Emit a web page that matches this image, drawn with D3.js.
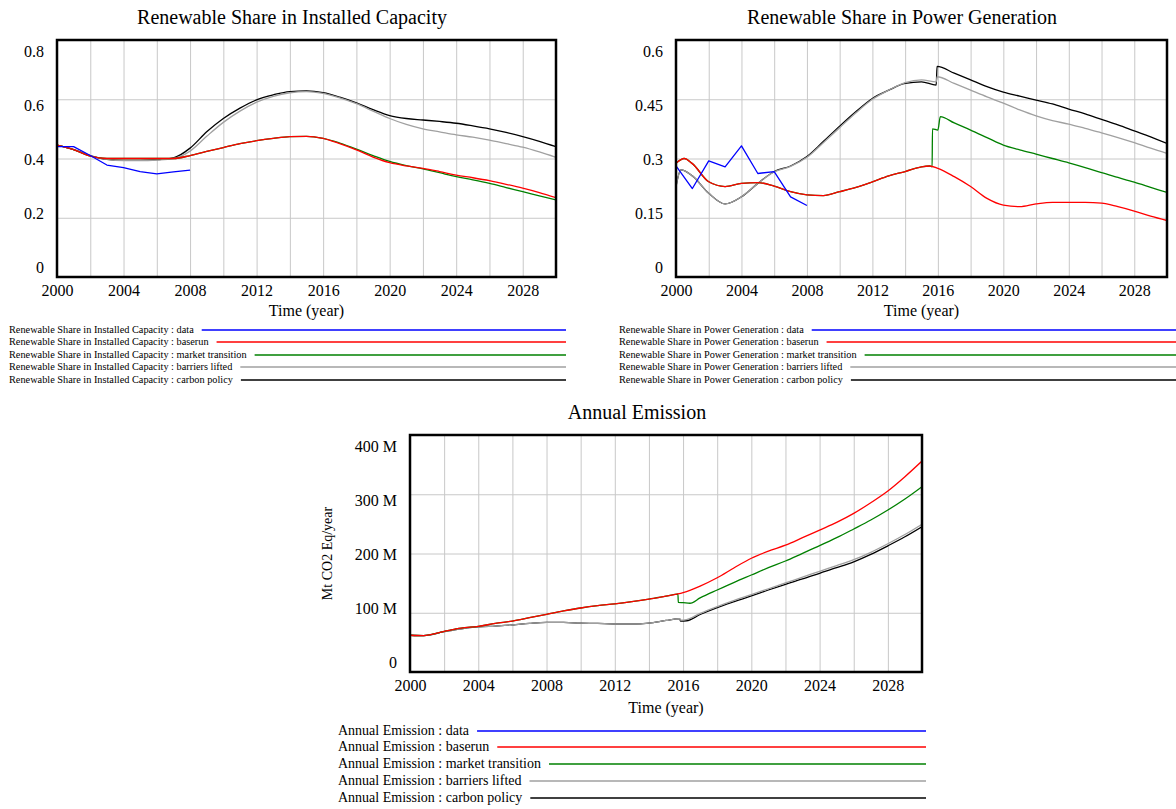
<!DOCTYPE html>
<html>
<head>
<meta charset="utf-8">
<script src="https://cdn.jsdelivr.net/npm/d3@7"></script>
<style>
  body { margin: 0; background: #fff; }
  svg { display: block; font-family: "Liberation Serif", "Times New Roman", serif; }
</style>
</head>
<body>
<svg id="chart"></svg>
<script>
// ---- data: [year, value] ----
const scenarios = ["data", "baserun", "market transition", "barriers lifted", "carbon policy"];
const scenarioColors = ["#0000ff", "#ff0000", "#008000", "#a0a0a0", "#000000"];

// Renewable Share in Installed Capacity
const capData = [[2000,0.44],[2001,0.44],[2002,0.41],[2003,0.378],[2004,0.369],[2005,0.356],[2006,0.348],[2007,0.355],[2008,0.361]];
const capBaserun = [[2000,0.445],[2001,0.43],[2002,0.408],[2003,0.40],[2004,0.40],[2005,0.40],[2006,0.40],[2007,0.40],[2008,0.41],[2009,0.424],[2010,0.437],[2011,0.45],[2012,0.46],[2013,0.468],[2014,0.474],[2015,0.475],[2016,0.468],[2017,0.45],[2018,0.429],[2019,0.405],[2020,0.386],[2021,0.375],[2022,0.367],[2023,0.356],[2024,0.344],[2025,0.335],[2026,0.325],[2027,0.313],[2028,0.30],[2029,0.285],[2030,0.268]];
const capMarket = [[2000,0.445],[2001,0.43],[2002,0.408],[2003,0.40],[2004,0.40],[2005,0.40],[2006,0.40],[2007,0.40],[2008,0.41],[2009,0.424],[2010,0.437],[2011,0.45],[2012,0.46],[2013,0.468],[2014,0.474],[2015,0.475],[2016,0.468],[2017,0.452],[2018,0.432],[2019,0.41],[2020,0.39],[2021,0.376],[2022,0.365],[2023,0.352],[2024,0.339],[2025,0.328],[2026,0.316],[2027,0.302],[2028,0.288],[2029,0.274],[2030,0.26]];
const capBarriers = [[2000,0.445],[2001,0.43],[2002,0.41],[2003,0.397],[2004,0.393],[2005,0.393],[2006,0.395],[2007,0.40],[2008,0.425],[2009,0.475],[2010,0.522],[2011,0.56],[2012,0.59],[2013,0.61],[2014,0.622],[2015,0.626],[2016,0.62],[2017,0.605],[2018,0.585],[2019,0.56],[2020,0.535],[2021,0.515],[2022,0.50],[2023,0.49],[2024,0.48],[2025,0.472],[2026,0.462],[2027,0.45],[2028,0.438],[2029,0.422],[2030,0.404]];
const capCarbon = [[2000,0.445],[2001,0.43],[2002,0.41],[2003,0.397],[2004,0.394],[2005,0.394],[2006,0.396],[2007,0.402],[2008,0.435],[2009,0.49],[2010,0.535],[2011,0.57],[2012,0.598],[2013,0.615],[2014,0.626],[2015,0.628],[2016,0.622],[2017,0.607],[2018,0.588],[2019,0.565],[2020,0.545],[2021,0.535],[2022,0.53],[2023,0.525],[2024,0.519],[2025,0.51],[2026,0.50],[2027,0.488],[2028,0.474],[2029,0.458],[2030,0.44]];

// Renewable Share in Power Generation
const genData = [[2000,0.281],[2001,0.224],[2002,0.294],[2003,0.279],[2004,0.332],[2005,0.262],[2006,0.267],[2007,0.203],[2008,0.181]];
const genBaserun = [[2000,0.288],[2000.5,0.30],[2001,0.287],[2002,0.241],[2003,0.229],[2004,0.237],[2005,0.239],[2006,0.23],[2007,0.216],[2008,0.208],[2009,0.206],[2010,0.216],[2011,0.227],[2012,0.241],[2013,0.256],[2014,0.267],[2015,0.279],[2015.5,0.281],[2016,0.275],[2017,0.254],[2018,0.229],[2019,0.199],[2020,0.182],[2021,0.178],[2022,0.185],[2023,0.189],[2024,0.189],[2025,0.189],[2026,0.187],[2027,0.178],[2028,0.167],[2029,0.154],[2030,0.143]];
const genMarket = [[2000,0.288],[2000.5,0.30],[2001,0.287],[2002,0.241],[2003,0.229],[2004,0.237],[2005,0.239],[2006,0.23],[2007,0.216],[2008,0.208],[2009,0.206],[2010,0.216],[2011,0.227],[2012,0.241],[2013,0.256],[2014,0.267],[2015,0.279],[2015.5,0.281],[2015.65,0.279],[2015.67,0.375],[2016,0.372],[2016.15,0.406],[2017,0.39],[2018,0.372],[2019,0.353],[2020,0.334],[2021,0.322],[2022,0.311],[2023,0.30],[2024,0.289],[2025,0.277],[2026,0.264],[2027,0.252],[2028,0.24],[2029,0.227],[2030,0.214]];
const genBarriers = [[2000,0.229],[2000.3,0.271],[2001,0.256],[2002,0.212],[2003,0.185],[2004,0.203],[2005,0.237],[2006,0.266],[2007,0.28],[2008,0.303],[2009,0.34],[2010,0.378],[2011,0.416],[2012,0.45],[2013,0.473],[2014,0.492],[2015,0.499],[2015.9,0.494],[2015.95,0.507],[2017,0.49],[2018,0.473],[2019,0.456],[2020,0.44],[2021,0.423],[2022,0.408],[2023,0.396],[2024,0.387],[2025,0.376],[2026,0.365],[2027,0.353],[2028,0.34],[2029,0.326],[2030,0.313]];
const genCarbon = [[2000,0.229],[2000.3,0.271],[2001,0.256],[2002,0.212],[2003,0.185],[2004,0.203],[2005,0.237],[2006,0.267],[2007,0.281],[2008,0.305],[2009,0.343],[2010,0.382],[2011,0.419],[2012,0.452],[2013,0.473],[2014,0.49],[2015,0.494],[2015.9,0.486],[2015.95,0.533],[2017,0.516],[2018,0.499],[2019,0.482],[2020,0.468],[2021,0.458],[2022,0.448],[2023,0.438],[2024,0.425],[2025,0.413],[2026,0.399],[2027,0.385],[2028,0.37],[2029,0.355],[2030,0.338]];

// Annual Emission (millions)
const emData = [];
const emBaserun = [[2000,62],[2000.8,61.5],[2002,68.5],[2003,74],[2004,77],[2005,82],[2006,86],[2007,91.7],[2008,97.4],[2009,103],[2010,108],[2011,112],[2012,115],[2013,118.7],[2014,123],[2015,128],[2016,134],[2017,145],[2018,159],[2019,176],[2020,192],[2021,204],[2022,214],[2023,226.7],[2024,239.6],[2025,252.5],[2026,267.7],[2027,285.7],[2028,305.5],[2029,329.6],[2030,356]];
const emMarket = [[2000,62],[2000.8,61.5],[2002,68.5],[2003,74],[2004,77],[2005,82],[2006,86],[2007,91.7],[2008,97.4],[2009,103],[2010,108],[2011,112],[2012,115],[2013,118.7],[2014,123],[2015,128],[2015.7,131.5],[2015.72,117.5],[2016,117],[2016.4,116],[2017,125],[2018,138.4],[2019,151.4],[2020,163.7],[2021,176],[2022,187.3],[2023,200.3],[2024,213.2],[2025,226.7],[2026,241.4],[2027,256.5],[2028,273.4],[2029,292],[2030,312.8]];
const emBarriers = [[2000,62],[2000.8,61.5],[2002,68],[2003,73],[2004,76],[2005,77.5],[2006,79.3],[2007,82],[2008,83.7],[2009,83.7],[2010,82.5],[2011,82],[2012,81],[2013,81],[2014,82.6],[2015,87],[2015.8,90],[2015.85,87.5],[2016.2,88.5],[2017,99],[2018,110.5],[2019,121],[2020,130.5],[2021,140.5],[2022,150.5],[2023,160],[2024,170],[2025,179.5],[2026,189.5],[2027,202],[2028,216.5],[2029,232],[2030,249.4]];
const emCarbon = [[2000,62],[2000.8,61.5],[2002,68],[2003,73],[2004,76],[2005,77.5],[2006,79.3],[2007,82],[2008,83.7],[2009,83.7],[2010,82.5],[2011,82],[2012,81],[2013,81],[2014,82.6],[2015,87],[2015.8,90],[2015.85,86],[2016.2,86.5],[2017,97],[2018,108.7],[2019,118.8],[2020,128.3],[2021,138.4],[2022,148],[2023,157],[2024,166.6],[2025,176],[2026,186],[2027,198.5],[2028,213],[2029,228.3],[2030,245.3]];

// axis ticks
const xGridYears = [2002,2004,2006,2008,2010,2012,2014,2016,2018,2020,2022,2024,2026,2028];
const xLabelYears = [2000,2004,2008,2012,2016,2020,2024,2028];
const capTicks = [0, 0.2, 0.4, 0.6, 0.8];
const genTicks = [0, 0.15, 0.3, 0.45, 0.6];
const emTicks = [0, 100, 200, 300, 400];

// ---- drawing ----
const svg = d3.select("#chart").attr("width", 1176).attr("height", 809);

function panel(cfg) {
    const x = d3.scaleLinear().domain([2000, 2030]).range([cfg.left, cfg.right]);
    const y = d3.scaleLinear().domain([0, cfg.yMax]).range([cfg.bottom, cfg.top]);
    // Vensim spreads the y labels a bit inside the frame
    const yLab = d3.scaleLinear().domain([0, cfg.yMax]).range([cfg.bottom - 10, cfg.top + 11]);
    const h = cfg.bottom - cfg.top, w = cfg.right - cfg.left;
    const g = svg.append("g");

    // grid
    g.append("g")
        .attr("transform", `translate(0,${cfg.bottom})`)
        .call(d3.axisBottom(x).tickValues(xGridYears).tickSize(-h).tickFormat(""))
        .call(a => a.select(".domain").remove())
        .selectAll("line").attr("stroke", "#c8c8c8");
    g.append("g")
        .attr("transform", `translate(${cfg.left},0)`)
        .call(d3.axisLeft(y).tickValues(cfg.ticks.slice(1, -1)).tickSize(-w).tickFormat(""))
        .call(a => a.select(".domain").remove())
        .selectAll("line").attr("stroke", "#c8c8c8");

    // series
    const clipId = "clip" + cfg.left + cfg.top;
    g.append("clipPath").attr("id", clipId)
        .append("rect").attr("x", cfg.left).attr("y", cfg.top).attr("width", w).attr("height", h);
    const line = d3.line().x(d => x(d[0])).y(d => y(d[1]));
    const order = [4, 3, 2, 1, 0];
    order.forEach(i => {
        const s = cfg.series[i];
        if (!s.length) return;
        g.append("path")
            .datum(s)
            .attr("clip-path", `url(#${clipId})`)
            .attr("fill", "none")
            .attr("stroke", scenarioColors[i])
            .attr("stroke-width", 1.3)
            .attr("stroke-linejoin", "round")
            .attr("d", line.curve(i === 0 ? d3.curveLinear : d3.curveMonotoneX));
    });

    // frame
    g.append("rect")
        .attr("x", cfg.left).attr("y", cfg.top).attr("width", w).attr("height", h)
        .attr("fill", "none").attr("stroke", "#000").attr("stroke-width", 2.5);

    // axis labels
    g.append("g")
        .attr("transform", `translate(0,${cfg.bottom})`)
        .call(d3.axisBottom(x).tickValues(xLabelYears).tickSize(0).tickPadding(8).tickFormat(d3.format("d")))
        .attr("font-family", null).attr("font-size", 16)
        .call(a => a.select(".domain").remove())
        .selectAll("text").attr("fill", "#000");
    g.append("g")
        .attr("transform", `translate(${cfg.left},0)`)
        .call(d3.axisLeft(yLab).tickValues(cfg.ticks).tickSize(0).tickPadding(13).tickFormat(cfg.fmt))
        .attr("font-family", null).attr("font-size", 16)
        .call(a => a.select(".domain").remove())
        .selectAll("text").attr("fill", "#000");

    g.append("text")
        .attr("x", (cfg.left + cfg.right) / 2).attr("y", cfg.bottom + cfg.timeDy)
        .attr("text-anchor", "middle").attr("font-size", 16)
        .text("Time (year)");

    g.append("text")
        .attr("x", cfg.titleX).attr("y", cfg.top - 16)
        .attr("text-anchor", "middle").attr("font-size", 20)
        .text(cfg.title);

    if (cfg.yLabel) {
        g.append("text")
            .attr("transform", `translate(${cfg.yLabelX},${(cfg.top + cfg.bottom) / 2}) rotate(-90)`)
            .attr("text-anchor", "middle").attr("font-size", 14)
            .text(cfg.yLabel);
    }

    // legend
    const leg = g.append("g").attr("font-size", cfg.legendFont);
    scenarios.forEach((name, i) => {
        const ly = cfg.legendY[i];
        const t = leg.append("text")
            .attr("x", cfg.legendX).attr("y", ly)
            .attr("dy", "0.32em")
            .text(`${cfg.title} : ${name}`);
        const tw = t.node().getComputedTextLength();
        leg.append("line")
            .attr("x1", cfg.legendX + tw + 8).attr("x2", cfg.legendEnd)
            .attr("y1", ly).attr("y2", ly)
            .attr("stroke", scenarioColors[i]).attr("stroke-width", 1.5);
    });
}

panel({
    title: "Renewable Share in Installed Capacity", titleX: 292,
    left: 57, right: 556, top: 40, bottom: 277, yMax: 0.8,
    ticks: capTicks, fmt: d => d === 0 ? "0" : String(d),
    series: [capData, capBaserun, capMarket, capBarriers, capCarbon],
    timeDy: 39,
    legendX: 9, legendEnd: 566, legendFont: 10.3,
    legendY: [330, 342, 355, 367, 380]
});

panel({
    title: "Renewable Share in Power Generation", titleX: 902,
    left: 676, right: 1167, top: 40, bottom: 277, yMax: 0.6,
    ticks: genTicks, fmt: d => d === 0 ? "0" : String(d),
    series: [genData, genBaserun, genMarket, genBarriers, genCarbon],
    timeDy: 39,
    legendX: 619, legendEnd: 1176, legendFont: 10.3,
    legendY: [330, 342, 355, 367, 380]
});

panel({
    title: "Annual Emission", titleX: 637,
    left: 410, right: 922, top: 435, bottom: 672, yMax: 400,
    ticks: emTicks, fmt: d => d === 0 ? "0" : d + " M",
    series: [emData, emBaserun, emMarket, emBarriers, emCarbon],
    timeDy: 41,
    yLabel: "Mt CO2 Eq/year", yLabelX: 332,
    legendX: 338, legendEnd: 926, legendFont: 14,
    legendY: [731, 747, 764, 781, 798]
});
</script>
</body>
</html>
